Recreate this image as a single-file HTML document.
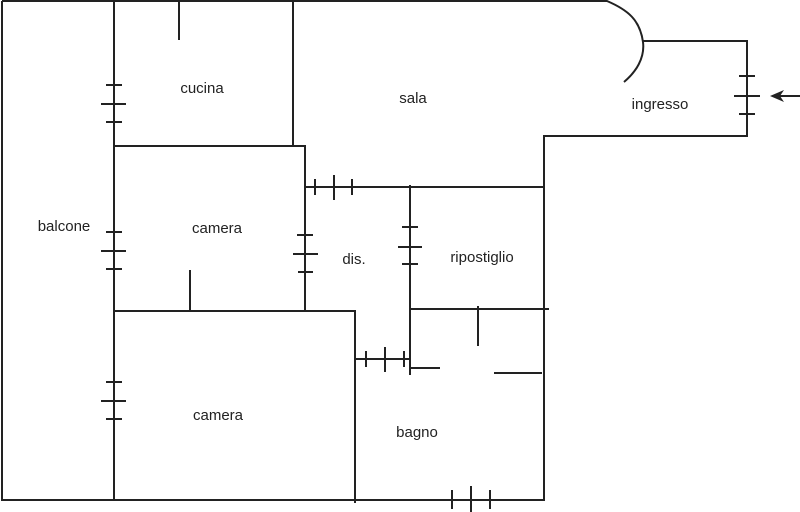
<!DOCTYPE html>
<html><head><style>
html,body{margin:0;padding:0;background:#fff;}
svg{display:block;}
text{font-family:"Liberation Sans",sans-serif;font-size:15px;fill:#222;text-anchor:middle;}
</style></head><body>
<svg width="800" height="512" viewBox="0 0 800 512" xmlns="http://www.w3.org/2000/svg">
<g stroke="#222" stroke-width="2" fill="none" stroke-linecap="butt">
<!-- outer -->
<path d="M2,1 L607,1 C628,10 640,20 643,42 C645,58 636,72 624,82"/>
<path d="M643,41 L747,41 L747,136 L544,136 L544,500 L2,500 L2,1"/>
<!-- interior -->
<line x1="114" y1="1" x2="114" y2="501"/>
<line x1="179" y1="1" x2="179" y2="40"/>
<line x1="293" y1="1" x2="293" y2="145"/>
<line x1="114" y1="146" x2="306" y2="146"/>
<line x1="305" y1="146" x2="305" y2="312"/>
<line x1="305" y1="187" x2="544" y2="187"/>
<line x1="114" y1="311" x2="356" y2="311"/>
<line x1="355" y1="311" x2="355" y2="503"/>
<line x1="190" y1="270" x2="190" y2="311"/>
<line x1="410" y1="185" x2="410" y2="375"/>
<line x1="410" y1="309" x2="549" y2="309"/>
<line x1="478" y1="306" x2="478" y2="346"/>
<line x1="355" y1="359" x2="410" y2="359"/>
<line x1="409" y1="368" x2="440" y2="368"/>
<line x1="494" y1="373" x2="542" y2="373"/>
<!-- windows on x=114 -->
<line x1="106" y1="85" x2="122" y2="85"/><line x1="101" y1="104" x2="126" y2="104"/><line x1="106" y1="122" x2="122" y2="122"/>
<line x1="106" y1="232" x2="122" y2="232"/><line x1="101" y1="251" x2="126" y2="251"/><line x1="106" y1="269" x2="122" y2="269"/>
<line x1="106" y1="382" x2="122" y2="382"/><line x1="101" y1="401" x2="126" y2="401"/><line x1="106" y1="419" x2="122" y2="419"/>
<!-- x=305 -->
<line x1="297" y1="235" x2="313" y2="235"/><line x1="293" y1="254" x2="318" y2="254"/><line x1="298" y1="272" x2="313" y2="272"/>
<!-- y=187 -->
<line x1="315" y1="179" x2="315" y2="195"/><line x1="334" y1="175" x2="334" y2="200"/><line x1="352" y1="179" x2="352" y2="195"/>
<!-- x=410 -->
<line x1="402" y1="227" x2="418" y2="227"/><line x1="398" y1="247" x2="422" y2="247"/><line x1="402" y1="264" x2="418" y2="264"/>
<!-- y=359 -->
<line x1="366" y1="351" x2="366" y2="367"/><line x1="385" y1="347" x2="385" y2="372"/><line x1="404" y1="351" x2="404" y2="367"/>
<!-- bottom -->
<line x1="452" y1="490" x2="452" y2="509"/><line x1="471" y1="486" x2="471" y2="512"/><line x1="490" y1="490" x2="490" y2="509"/>
<!-- ingresso -->
<line x1="739" y1="76" x2="755" y2="76"/><line x1="734" y1="96" x2="760" y2="96"/><line x1="739" y1="114" x2="755" y2="114"/>
<line x1="776" y1="96" x2="800" y2="96"/>
</g>
<polygon points="770,96 784,90 780,96 784,102" fill="#222"/>
<text x="202" y="93">cucina</text>
<text x="413" y="103">sala</text>
<text x="660" y="109">ingresso</text>
<text x="64" y="231">balcone</text>
<text x="217" y="233">camera</text>
<text x="354" y="264">dis.</text>
<text x="482" y="262">ripostiglio</text>
<text x="218" y="420">camera</text>
<text x="417" y="437">bagno</text>
</svg>
</body></html>
